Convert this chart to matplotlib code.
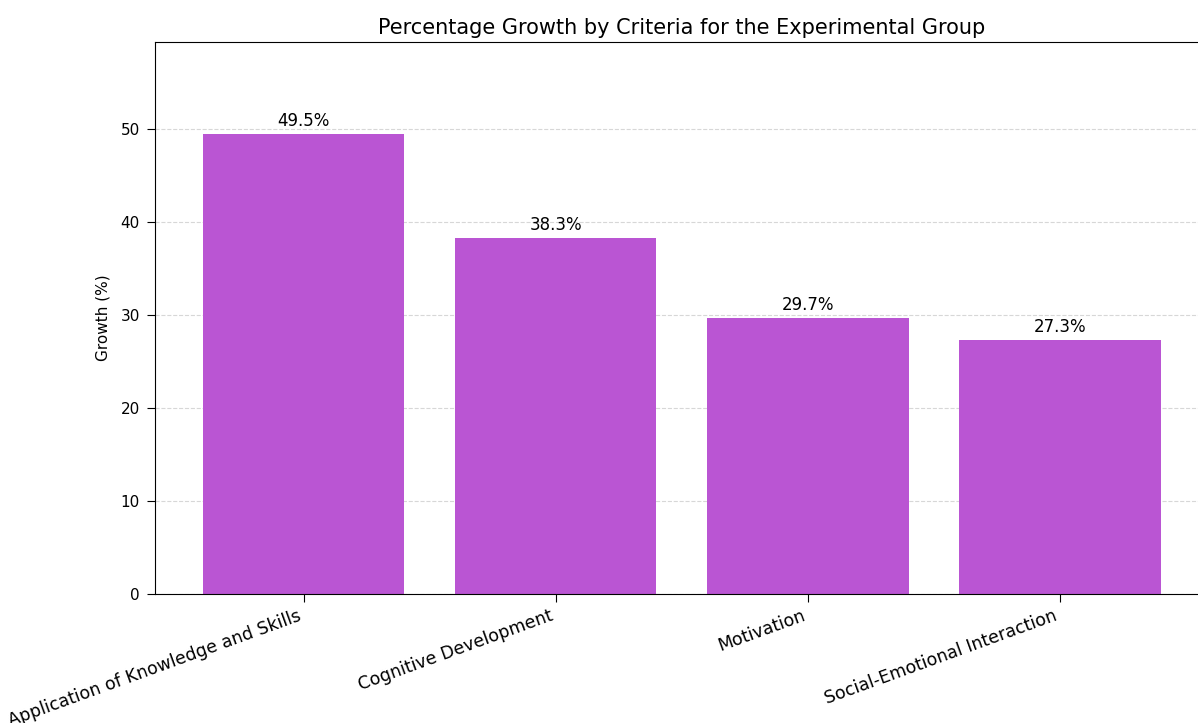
import matplotlib
matplotlib.use("Agg")
import matplotlib.pyplot as plt
import numpy as np

# growth per criterion, experimental group
criteria = ["Application of Knowledge and Skills", "Cognitive Development",
            "Motivation", "Social-Emotional Interaction"]
growth = [49.5, 38.3, 29.7, 27.3]

fig = plt.figure(figsize=(11.98, 7.23), dpi=100)
ax = fig.add_axes([155 / 1198, 129 / 723, 1053.4 / 1198, 552 / 723])

x = np.arange(len(criteria))
bars = ax.bar(x, growth, color="mediumorchid", width=0.8)

for b, v in zip(bars, growth):
    ax.annotate(f"{v}%", (b.get_x() + b.get_width() / 2, b.get_height()),
                xytext=(0, 3), textcoords="offset points",
                ha="center", va="bottom", fontsize=12)

ax.set_ylim(0, max(growth) * 1.2)
ax.set_xticks(x)
ax.set_xticklabels(criteria, rotation=20, ha="right", fontsize=12.5)
ax.tick_params(axis="x", length=6, pad=3)
ax.tick_params(axis="y", labelsize=11, length=6, pad=5)
ax.set_ylabel("Growth (%)", fontsize=11, labelpad=7)
ax.set_title("Percentage Growth by Criteria for the Experimental Group", fontsize=15)
ax.set_axisbelow(True)
ax.grid(axis="y", linestyle="--", alpha=0.5)

fig.savefig("out.png", dpi=100)
